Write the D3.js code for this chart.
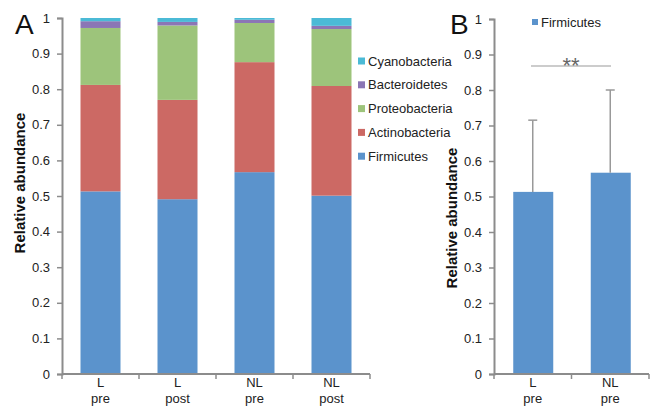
<!DOCTYPE html>
<html><head><meta charset="utf-8">
<script src="https://cdn.jsdelivr.net/npm/d3@7"></script>
<style>body{margin:0;background:#fff}svg{display:block;font-family:"Liberation Sans",Arial,sans-serif}</style>
</head><body><svg id="c" width="651" height="406"></svg>
<script>
// Panel A data
const groupsA = [["L","pre"],["L","post"],["NL","pre"],["NL","post"]];
const phyla = ["Firmicutes","Actinobacteria","Proteobacteria","Bacteroidetes","Cyanobacteria"];
const firmicutes     = [0.513, 0.491, 0.567, 0.501];
const actinobacteria = [0.299, 0.279, 0.309, 0.308];
const proteobacteria = [0.160, 0.209, 0.110, 0.160];
const bacteroidetes  = [0.019, 0.010, 0.009, 0.009];
const cyanobacteria  = [0.009, 0.011, 0.005, 0.022];
const colors = ["#5B93CC","#CC6964","#9DC47B","#8B76B5","#4BBAD6"];
// Panel B data
const groupsB = [["L","pre"],["NL","pre"]];
const firmB = [0.513, 0.567];
const firmBErr = [0.202, 0.233];
const yTicks = [0,0.1,0.2,0.3,0.4,0.5,0.6,0.7,0.8,0.9,1];

const svg = d3.select("#c");
const axisCol = "#8c8c8c";
const fs = 13;

// ---- Panel A ----
const xA = d3.scaleBand().domain(d3.range(4)).range([62,370]).paddingInner(0).paddingOuter(0);
const yA = d3.scaleLinear().domain([0,1]).range([374,18]);
const seriesVals = [firmicutes, actinobacteria, proteobacteria, bacteroidetes, cyanobacteria];
const table = d3.range(4).map(i => { const o={i}; phyla.forEach((p,k)=>o[p]=seriesVals[k][i]); return o; });
const stack = d3.stack().keys(phyla)(table);
const gA = svg.append("g");
stack.forEach((s,k)=>{
  gA.selectAll(null).data(s).enter().append("rect")
    .attr("x", d=>xA(d.data.i)+xA.bandwidth()/2-20)
    .attr("width",40)
    .attr("y", d=>yA(d[1]))
    .attr("height", d=>yA(d[0])-yA(d[1]))
    .attr("fill", colors[k]);
});
function yAxis(g, y, x){
  g.attr("transform",`translate(${x},0)`)
   .call(d3.axisLeft(y).tickValues(yTicks).tickSize(5).tickPadding(7).tickFormat(d=>d===0||d===1?d3.format("d")(d):d3.format(".1f")(d)));
  g.select(".domain").attr("stroke",axisCol).attr("stroke-width",2);
  g.selectAll(".tick line").attr("stroke",axisCol).attr("stroke-width",1.5);
  g.selectAll(".tick text").attr("font-size",fs).attr("fill","#222").attr("font-family","Liberation Sans, Arial, sans-serif");
}
function xAxis(g, x, groups, yPos){
  const x0 = x.range()[0], x1 = x.range()[1];
  g.append("line").attr("x1",x0).attr("x2",x1).attr("y1",yPos).attr("y2",yPos).attr("stroke",axisCol).attr("stroke-width",2);
  const bounds = x.domain().map(i=>x(i)).concat([x1]);
  g.selectAll(null).data(bounds).enter().append("line")
    .attr("x1",d=>d).attr("x2",d=>d).attr("y1",yPos).attr("y2",yPos+5).attr("stroke",axisCol).attr("stroke-width",1.5);
  const t = g.selectAll(null).data(groups).enter().append("text")
    .attr("text-anchor","middle").attr("font-size",fs).attr("fill","#222");
  t.append("tspan").attr("x",(d,i)=>x(i)+x.bandwidth()/2).attr("y",yPos+13).text(d=>d[0]);
  t.append("tspan").attr("x",(d,i)=>x(i)+x.bandwidth()/2).attr("y",yPos+29).text(d=>d[1]);
}
yAxis(gA.append("g"), yA, 62);
xAxis(gA.append("g"), xA, groupsA, 374);

// legend A
const legOrder = [4,3,2,1,0];
const leg = gA.append("g");
legOrder.forEach((k,j)=>{
  const yy = 61 + j*23.8;
  leg.append("rect").attr("x",358).attr("y",yy-3.5).attr("width",7).attr("height",7).attr("fill",colors[k]);
  leg.append("text").attr("x",368).attr("y",yy+4.5).attr("font-size",fs).attr("fill","#222").text(phyla[k]);
});

svg.append("text").attr("transform","translate(25,183) rotate(-90)").attr("text-anchor","middle")
  .attr("font-size",15).attr("font-weight","bold").attr("fill","#111").text("Relative abundance");
svg.append("text").attr("x",15).attr("y",34).attr("font-size",28).attr("fill","#111").text("A");

// ---- Panel B ----
const xB = d3.scaleBand().domain(d3.range(2)).range([494,649]);
const yB = d3.scaleLinear().domain([0,1]).range([374,19]);
const gB = svg.append("g");
gB.selectAll(null).data(firmB).enter().append("rect")
  .attr("x",(d,i)=>xB(i)+xB.bandwidth()/2-19.5).attr("width",40)
  .attr("y",d=>yB(d)).attr("height",d=>yB(0)-yB(d)).attr("fill",colors[0]);
gB.selectAll(null).data(firmB).enter().append("line")
  .attr("x1",(d,i)=>xB(i)+xB.bandwidth()/2).attr("x2",(d,i)=>xB(i)+xB.bandwidth()/2)
  .attr("y1",d=>yB(d)).attr("y2",(d,i)=>yB(d+firmBErr[i])).attr("stroke","#999").attr("stroke-width",1.5);
gB.selectAll(null).data(firmB).enter().append("line")
  .attr("x1",(d,i)=>xB(i)+xB.bandwidth()/2-4.5).attr("x2",(d,i)=>xB(i)+xB.bandwidth()/2+4.5)
  .attr("y1",(d,i)=>yB(d+firmBErr[i])).attr("y2",(d,i)=>yB(d+firmBErr[i])).attr("stroke","#999").attr("stroke-width",1.5);
yAxis(gB.append("g"), yB, 494);
xAxis(gB.append("g"), xB, groupsB, 374);
// significance
gB.append("line").attr("x1",531).attr("x2",611).attr("y1",66).attr("y2",66).attr("stroke","#999").attr("stroke-width",1.2);
gB.append("text").attr("x",571).attr("y",73).attr("text-anchor","middle").attr("font-size",22).attr("fill","#666").text("**");
// legend B
gB.append("rect").attr("x",532).attr("y",19).attr("width",6).attr("height",6).attr("fill",colors[0]);
gB.append("text").attr("x",541).attr("y",27).attr("font-size",fs).attr("fill","#222").text("Firmicutes");
svg.append("text").attr("transform","translate(457,218) rotate(-90)").attr("text-anchor","middle")
  .attr("font-size",15).attr("font-weight","bold").attr("fill","#111").text("Relative abundance");
svg.append("text").attr("x",450).attr("y",34).attr("font-size",28).attr("fill","#111").text("B");
</script></body></html>
